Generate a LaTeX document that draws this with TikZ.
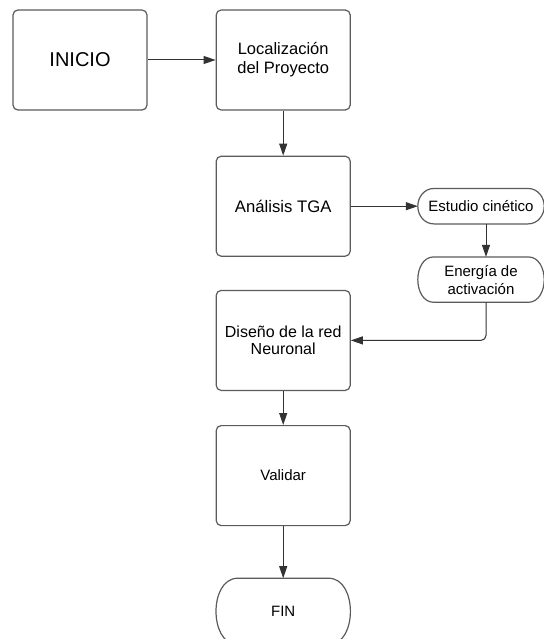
\documentclass[tikz,border=0pt]{standalone}
\usepackage{fontspec}
\setmainfont{Liberation Sans}
\usepackage{tikz}
\usetikzlibrary{arrows.meta,positioning}
\definecolor{fcline}{HTML}{5B5B5B}
\definecolor{fcarrow}{HTML}{333333}
\tikzset{
  box/.style={draw=fcline,line width=1.2pt,rounded corners=5pt,align=center,
              minimum width=134pt,minimum height=100pt,inner sep=2pt,
              font=\fontsize{15}{16}\selectfont},
  term/.style={align=center,minimum width=126pt,minimum height=35pt,inner sep=2pt,
               font=\fontsize{15}{18}\selectfont},
  termline/.style={draw=fcline,line width=1.2pt},
  ar/.style={-{Triangle[length=12pt,width=8pt]},line width=1pt,fcarrow},
}
% outline of a terminal node: straight top and bottom, curved ends
\newcommand{\termshape}[2]{%
  \draw[termline] ([xshift=#2]#1.north west) -- ([xshift=-#2]#1.north east)
    to[out=0,in=90] (#1.east) to[out=-90,in=0] ([xshift=-#2]#1.south east)
    -- ([xshift=#2]#1.south west) to[out=180,in=-90] (#1.west)
    to[out=90,in=180] cycle;}
\begin{document}
\begin{tikzpicture}[x=1pt,y=-1pt]
    \useasboundingbox (0,0) rectangle (543,639);
    \node[box,font=\fontsize{20}{24}\selectfont] (inicio) at (80,60) {INICIO};
    \node[box,right=68pt of inicio,font=\fontsize{16.5}{19}\selectfont] (loc) {Localización\\del Proyecto};
    \node[box,below=45pt of loc,font=\fontsize{16.7}{19}\selectfont] (tga) {Análisis TGA};
    \node[term,right=67pt of tga] (est) {Estudio cinético};
    \node[term,below=33pt of est,minimum height=45pt] (ene) {Energía de\\activación};
    \node[box,below=33pt of tga,font=\fontsize{16}{16.5}\selectfont] (red) {Diseño de la red\\Neuronal};
    \node[box,below=34pt of red] (val) {Validar};
    \node[term,below=52pt of val,minimum width=134pt,minimum height=66pt] (fin) {FIN};
    \termshape{est}{16pt}
    \termshape{ene}{16pt}
    \termshape{fin}{22pt}
    \draw[ar] (inicio)--(loc);
    \draw[ar] (loc)--(tga);
    \draw[ar] (tga)--(est);
    \draw[ar] ([xshift=5pt]est.south)--([xshift=5pt]ene.north);
    \draw[ar,rounded corners=5pt] ([xshift=5pt]ene.south) |- (red.east);
    \draw[ar] (red)--(val);
    \draw[ar] (val)--(fin);
  \end{tikzpicture}
\end{document}
